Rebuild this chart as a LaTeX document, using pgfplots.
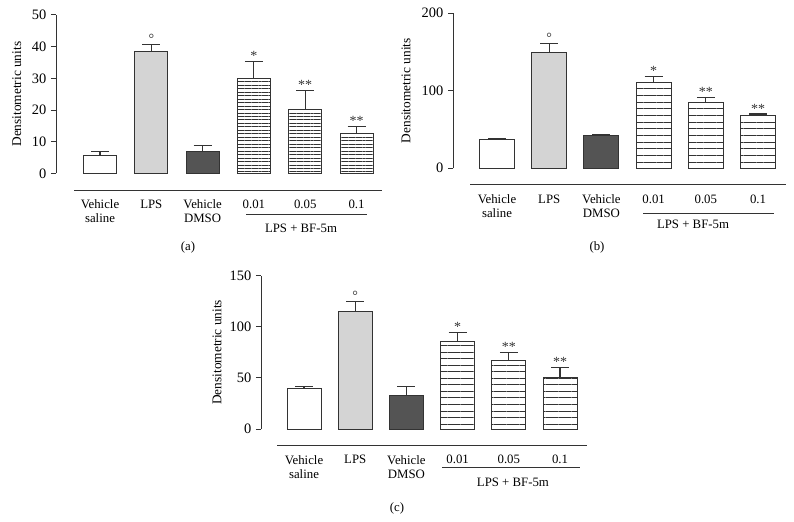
\documentclass[border=0pt]{standalone}
\usepackage{pgfplots}
\pgfplotsset{compat=1.18}
\usepackage{fontspec}
\setmainfont{Liberation Serif}
\usetikzlibrary{patterns.meta}

\definecolor{lpsgray}{HTML}{D4D4D4}
\definecolor{dmsogray}{HTML}{545454}
\definecolor{edge}{HTML}{333333}

\pgfplotsset{
  panel/.style={
    scale only axis, anchor=south west, clip=false,
    axis lines*=left, x axis line style={draw=none},
    xtick={0,...,5},
    xticklabels={{Vehicle\\saline},LPS,{Vehicle\\DMSO},0.01,0.05,0.1},
    major x tick style={draw=none},
    xticklabel style={align=center, anchor=north, font=\fontsize{9.6}{10.5}\selectfont, yshift=-12.5pt},
    ymin=0, tick align=outside, major tick length=3.75pt,
    y axis line style={line width=0.7pt, color=edge},
    ytick style={line width=0.7pt, color=edge},
    yticklabel style={font=\fontsize{10.8}{12}\selectfont},
    /pgf/number format/assume math mode=true,
    ylabel={Densitometric units},
    ylabel style={font=\fontsize{10}{12}\selectfont, anchor=center},
  },
  mybar/.style={ybar, bar shift=0pt, draw=edge, line width=0.7pt, mark=none,
    error bars/y dir=plus, error bars/y explicit, error bars/error mark=|,
    error bars/error bar style={line width=0.8pt, color=edge},
    error bars/error mark options={line width=0.8pt, mark size=6.75pt, color=edge}},
  hatch/.style={pattern={Lines[angle=0,distance=#1,line width=0.55pt]}, pattern color=edge},
  star/.style={draw=none, mark=none, nodes near coords, point meta=explicit symbolic,
    nodes near coords style={font=\fontsize{10.5}{11}\selectfont, anchor=south, inner sep=0.5pt, color=edge}},
}

\begin{document}
\begin{tikzpicture}[font=\fontsize{9.6}{11}\selectfont]
\useasboundingbox (0,0) rectangle (595.5pt,-391.5pt);

% (a)
\begin{axis}[panel, at={(42pt,-130.1pt)}, width=244.5pt, height=118.9pt,
  xmin=-0.858, xmax=5.497, ymax=50, ytick={0,10,...,50},
  ylabel style={at={(axis description cs:-0.12,0.5)}}]
\addplot[mybar, bar width=0.643, fill=white] coordinates {(0,5.8) +- (0,1.1)};
\addplot[mybar, bar width=0.643, fill=lpsgray] coordinates {(1,38.6) +- (0,2.1)};
\addplot[mybar, bar width=0.643, fill=dmsogray] coordinates {(2,7.0) +- (0,1.9)};
\addplot[mybar, bar width=0.643, hatch=2.6pt] coordinates {(3,30.1) +- (0,5.1) (4,20.1) +- (0,6.0) (5,12.7) +- (0,2.2)};
\addplot[star] coordinates {(1,40.7) [°] (3,35.2) [*] (4,26.1) [**] (5,14.9) [**]};
\draw[edge, line width=0.75pt] (axis cs:-0.507,-5.52) -- (axis cs:5.497,-5.52);
\draw[edge, line width=0.75pt] (axis cs:2.846,-13.09) -- (axis cs:5.205,-13.09);
\node at (axis cs:3.918,-17.19) {LPS + BF-5m};
\node at (axis cs:1.715,-23.2) {(a)};
\end{axis}

% (b)
\begin{axis}[panel, at={(339.75pt,-126.2pt)}, width=249.75pt, height=116.25pt,
  xmin=-0.843, xmax=5.536, ymax=200, ytick={0,100,200},
  ylabel style={at={(axis description cs:-0.141,0.5)}}]
\addplot[mybar, bar width=0.67, fill=white] coordinates {(0,36.6) +- (0,2.1)};
\addplot[mybar, bar width=0.67, fill=lpsgray] coordinates {(1,149.7) +- (0,11.3)};
\addplot[mybar, bar width=0.67, fill=dmsogray] coordinates {(2,41.7) +- (0,1.3)};
\addplot[mybar, bar width=0.67, hatch=5pt] coordinates {(3,110.5) +- (0,7.5) (4,85) +- (0,6.6) (5,68.4) +- (0,1.6)};
\addplot[star] coordinates {(1,161) [°] (3,118) [*] (4,91.6) [**] (5,70) [**]};
\draw[edge, line width=0.75pt] (axis cs:-0.517,-21.5) -- (axis cs:5.536,-21.5);
\draw[edge, line width=0.75pt] (axis cs:2.797,-58.1) -- (axis cs:5.307,-58.1);
\node at (axis cs:3.755,-71.9) {LPS + BF-5m};
\node at (axis cs:1.916,-101.6) {(b)};
\end{axis}

% (c)
\begin{axis}[panel, at={(195.75pt,-321.75pt)}, width=244.5pt, height=115pt,
  xmin=-0.84, xmax=5.527, ymax=150, ytick={0,50,100,150},
  ylabel style={at={(axis description cs:-0.135,0.5)}}]
\addplot[mybar, bar width=0.664, fill=white] coordinates {(0,39.8) +- (0,1.6)};
\addplot[mybar, bar width=0.664, fill=lpsgray] coordinates {(1,115) +- (0,10)};
\addplot[mybar, bar width=0.664, fill=dmsogray] coordinates {(2,32.6) +- (0,8.8)};
\addplot[mybar, bar width=0.664, hatch=4.9pt] coordinates {(3,85.4) +- (0,8.8) (4,67.5) +- (0,7.8) (5,50.5) +- (0,9.8)};
\addplot[star] coordinates {(1,125) [°] (3,94.2) [*] (4,75.3) [**] (5,60.3) [**]};
\draw[edge, line width=0.75pt] (axis cs:-0.527,-15.66) -- (axis cs:5.527,-15.66);
\draw[edge, line width=0.75pt] (axis cs:2.695,-37.2) -- (axis cs:5.39,-37.2);
\node at (axis cs:4.08,-51.9) {LPS + BF-5m};
\node at (axis cs:1.816,-77.3) {(c)};
\end{axis}
\end{tikzpicture}
\end{document}
